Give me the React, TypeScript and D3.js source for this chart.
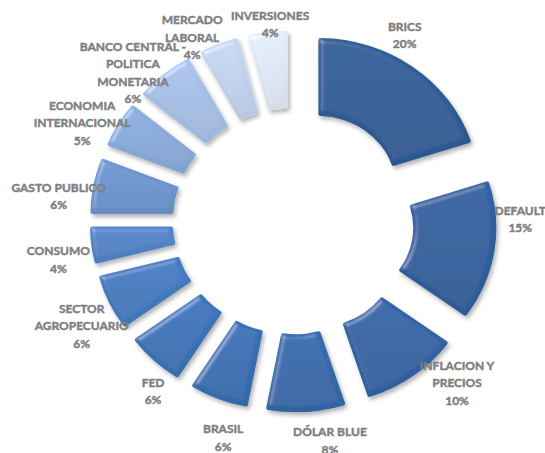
import React from "react";
import * as d3 from "d3";

const categories = [
  "BRICS",
  "DEFAULT",
  "INFLACION Y\nPRECIOS",
  "DÓLAR BLUE",
  "BRASIL",
  "FED",
  "SECTOR\nAGROPECUARIO",
  "CONSUMO",
  "GASTO PUBLICO",
  "ECONOMIA\nINTERNACIONAL",
  "BANCO CENTRAL -\nPOLITICA\nMONETARIA",
  "MERCADO\nLABORAL",
  "INVERSIONES",
];
const values = [20, 15, 10, 8, 6, 6, 6, 4, 6, 5, 6, 4, 4];
const sliceColors = [
  "#2d5a93", "#2e5d99", "#30619f", "#3366a6", "#366bad", "#3a70b3", "#4177ba",
  "#4f80c0", "#6890c9", "#86a6d4", "#a3badf", "#bdcde6", "#d8e1ee",
];
// label anchor around the donut: [angle in degrees clockwise from top, radius]
const labelPolar: [number, number][] = [
  [30.9, 217], [89.4, 227], [134.6, 230], [170.5, 222], [198, 227], [219.6, 220],
  [243.7, 236], [260.8, 238], [276.2, 236], [295, 233], [312.9, 219], [331.2, 210], [353.3, 199],
];

const W = 545, H = 453;
const CX = 293.3, CY = 221.4, SX = 1.066;
const R_OUT = 151, R_IN = 73, EXPLODE = 40;
const LINE_H = 17.5;

export default function App() {
  const pie = d3.pie<number>().sort(null).value((d) => d);
  const arcs = pie(values);
  const arcGen = d3.arc<d3.PieArcDatum<number>>().innerRadius(R_IN).outerRadius(R_OUT).cornerRadius(2);

  return (
    <svg width={W} height={H} style={{ position: "absolute", left: 0, top: 0, background: "#fff" }}>
      <defs>
        <filter id="bevel" x="-20%" y="-20%" width="140%" height="140%">
          <feGaussianBlur in="SourceAlpha" stdDeviation="2.5" result="blur" />
          <feSpecularLighting in="blur" surfaceScale="3" specularConstant="0.6" specularExponent="25" lightingColor="#ffffff" result="spec">
            <feDistantLight azimuth="225" elevation="40" />
          </feSpecularLighting>
          <feComposite in="spec" in2="SourceAlpha" operator="in" result="specIn" />
          <feComposite in="SourceGraphic" in2="specIn" operator="arithmetic" k1="0" k2="1" k3="0.4" k4="0" result="lit" />
          <feGaussianBlur in="SourceAlpha" stdDeviation="2" result="sblur" />
          <feOffset in="sblur" dx="1.5" dy="2.5" result="soff" />
          <feFlood floodColor="#000" floodOpacity="0.3" />
          <feComposite in2="soff" operator="in" result="shadow" />
          <feMerge>
            <feMergeNode in="shadow" />
            <feMergeNode in="lit" />
          </feMerge>
        </filter>
        {sliceColors.map((c, i) => (
          <linearGradient key={i} id={`g${i}`} x1="0" y1="0" x2="0" y2="1">
            <stop offset="0" stopColor={d3.color(c)!.brighter(0.15).formatHex()} />
            <stop offset="1" stopColor={d3.color(c)!.darker(0.08).formatHex()} />
          </linearGradient>
        ))}
      </defs>
      <g transform={`translate(${CX},${CY}) scale(${SX},1)`}>
        {arcs.map((a, i) => {
          const mid = (a.startAngle + a.endAngle) / 2;
          const tx = EXPLODE * Math.sin(mid);
          const ty = -EXPLODE * Math.cos(mid);
          return (
            <path
              key={i}
              d={arcGen(a) || ""}
              transform={`translate(${tx},${ty})`}
              fill={`url(#g${i})`}
              filter="url(#bevel)"
            />
          );
        })}
      </g>
      <g
        fontFamily="Lato, 'Open Sans', sans-serif"
        fontWeight="bold"
        fontSize="12"
        fill="#7f7f7f"
        stroke="#7f7f7f"
        strokeWidth="0.45"
        textAnchor="middle"
      >
        {arcs.map((a, i) => {
          const [ang, r] = labelPolar[i];
          const rad = (ang * Math.PI) / 180;
          const x = CX + r * Math.sin(rad);
          const y = CY - r * Math.cos(rad);
          const lines = [...categories[i].split("\n"), `${values[i]}%`];
          return (
            <text key={i} x={x} y={y}>
              {lines.map((l, j) => (
                <tspan key={j} x={x} y={y + (j - (lines.length - 1) / 2) * LINE_H} dominantBaseline="central">
                  {l}
                </tspan>
              ))}
            </text>
          );
        })}
      </g>
    </svg>
  );
}
